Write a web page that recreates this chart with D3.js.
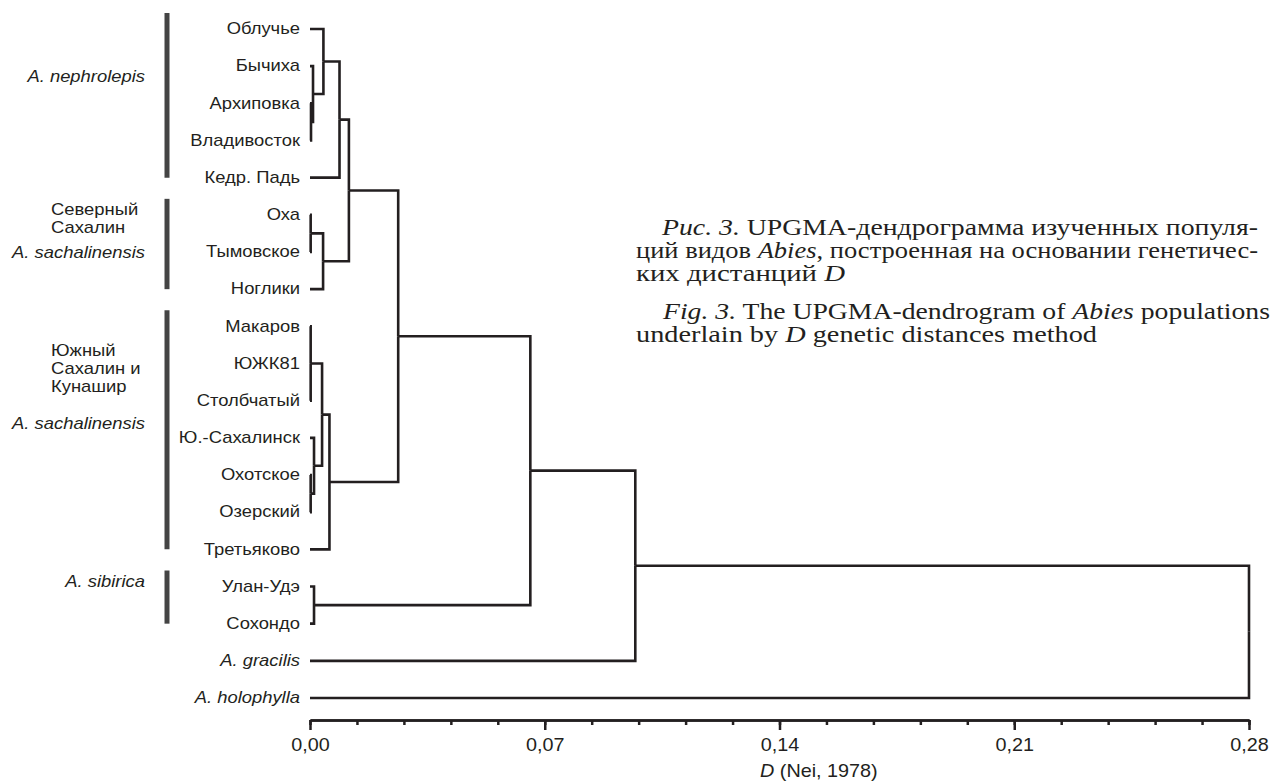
<!DOCTYPE html>
<html>
<head>
<meta charset="utf-8">
<script src="https://cdn.jsdelivr.net/npm/d3@7"></script>
<style>
  body { margin: 0; background: #fff; }
  svg text { font-family: "Liberation Sans", Arial, sans-serif; fill: #231f20; }
  svg .caption text { font-family: "Liberation Serif", "Times New Roman", serif; }
</style>
</head>
<body>
<svg width="1276" height="781"></svg>
<script>
// leaves, top to bottom
const leaves = ["Облучье", "Бычиха", "Архиповка", "Владивосток", "Кедр. Падь",
                "Оха", "Тымовское", "Ноглики",
                "Макаров", "ЮЖК81", "Столбчатый", "Ю.-Сахалинск", "Охотское", "Озерский", "Третьяково",
                "Улан-Удэ", "Сохондо", "A. gracilis", "A. holophylla"];
const italicLeaves = ["A. gracilis", "A. holophylla"];

// UPGMA merges: ids 0..18 are leaves, merge k gets id 19 + k
const mergeChildren = [[2, 3], [1, 19], [0, 20], [21, 4],
                       [5, 6], [23, 7], [22, 24],
                       [8, 9, 10], [12, 13], [11, 27], [26, 28], [29, 14],
                       [25, 30], [15, 16], [31, 32], [33, 17], [34, 18]];
const mergeHeights = [0.0003, 0.0009, 0.0040, 0.0088,
                      0.0002, 0.0039, 0.0116,
                      0.0002, 0.0002, 0.0012, 0.0036, 0.0058,
                      0.0263, 0.0012, 0.0657, 0.0970, 0.2800];

const tickValues = [0, 0.07, 0.14, 0.21, 0.28];
const tickLabels = ["0,00", "0,07", "0,14", "0,21", "0,28"];
const minorValues = d3.range(21).map(i => i * 0.014);

// vertical bars on the left: first and last leaf of each group
const groupFirst = ["Облучье", "Оха", "Макаров", "Улан-Удэ"];
const groupLast = ["Кедр. Падь", "Ноглики", "Третьяково", "Сохондо"];

window.addEventListener('load', e => {
    let svg = d3.select("svg");
    let ink = "#231f20";

    let xScale = d3.scaleLinear()
                   .domain([0, 0.28])
                   .range([310, 1249]);

    let yScale = d3.scalePoint()
                   .domain(leaves)
                   .range([29, 698]);

    // build the tree
    let nodes = leaves.map(name => ({ name: name, height: 0 }));
    mergeChildren.forEach((kids, i) => {
        nodes.push({ children: kids.map(k => nodes[k]), height: mergeHeights[i] });
    });
    let root = d3.hierarchy(nodes[nodes.length - 1]);

    root.eachAfter(d => {
        if (!d.children) {
            d.y = yScale(d.data.name);
        } else {
            d.y = (d.children[0].y + d.children[d.children.length - 1].y) / 2;
        }
        d.x = xScale(d.data.height);
    });

    svg.append("g")
      .selectAll("path")
      .data(root.links())
      .enter()
      .append("path")
        .attr("d", l => "M" + l.target.x + "," + l.target.y +
                        "H" + l.source.x + "V" + l.source.y)
        .attr("fill", "none")
        .attr("stroke", ink)
        .attr("stroke-width", 2.6)
        .attr("stroke-linejoin", "miter");

    // leaf labels
    svg.append("g")
      .selectAll("g")
      .data(leaves)
      .enter()
      .append("g")
        .attr("transform", d => "translate(300," + yScale(d) + ") scale(1.15,1)")
      .append("text")
        .attr("dy", "0.33em")
        .style("text-anchor", "end")
        .style("font-size", "16px")
        .style("font-style", d => italicLeaves.includes(d) ? "italic" : "normal")
        .text(d => d);

    // group bars
    svg.append("g")
      .selectAll("line")
      .data(groupFirst)
      .enter()
      .append("line")
        .attr("x1", 167)
        .attr("x2", 167)
        .attr("y1", (d, i) => yScale(d) - 16)
        .attr("y2", (d, i) => yScale(groupLast[i]))
        .attr("stroke", "#444")
        .attr("stroke-width", 5);

    // group labels
    let groupLabels = [
        { t: "A. nephrolepis", y: 76, x: 145, anchor: "end", italic: true },
        { t: "Северный", y: 209, x: 51, anchor: "start" },
        { t: "Сахалин", y: 227, x: 51, anchor: "start" },
        { t: "A. sachalinensis", y: 252, x: 145, anchor: "end", italic: true },
        { t: "Южный", y: 350, x: 51, anchor: "start" },
        { t: "Сахалин и", y: 368, x: 51, anchor: "start" },
        { t: "Кунашир", y: 386, x: 51, anchor: "start" },
        { t: "A. sachalinensis", y: 423, x: 145, anchor: "end", italic: true },
        { t: "A. sibirica", y: 581, x: 145, anchor: "end", italic: true }
    ];
    svg.append("g")
      .selectAll("g")
      .data(groupLabels)
      .enter()
      .append("g")
        .attr("transform", d => "translate(" + d.x + "," + d.y + ") scale(1.15,1)")
      .append("text")
        .attr("dy", "0.35em")
        .style("text-anchor", d => d.anchor)
        .style("font-size", "16px")
        .style("font-style", d => d.italic ? "italic" : "normal")
        .text(d => d.t);

    // axis
    let minorAxis = d3.axisBottom(xScale)
                      .tickValues(minorValues)
                      .tickSize(5)
                      .tickSizeOuter(0)
                      .tickFormat("");
    let majorAxis = d3.axisBottom(xScale)
                      .tickValues(tickValues)
                      .tickSize(10)
                      .tickSizeOuter(0)
                      .tickPadding(8)
                      .tickFormat((d, i) => tickLabels[i]);

    let gMinor = svg.append("g")
        .attr("transform", "translate(0,720)")
        .call(minorAxis);
    let gMajor = svg.append("g")
        .attr("transform", "translate(0,720)")
        .call(majorAxis);

    [gMinor, gMajor].forEach(g => {
        g.selectAll("path, line")
          .attr("stroke", ink)
          .attr("stroke-width", 2.5);
    });
    gMajor.selectAll("text")
        .attr("transform", "scale(1.1,1)")
        .style("font-family", "'Liberation Sans', Arial, sans-serif")
        .style("font-size", "18px")
        .attr("fill", ink);

    let title = svg.append("text")
        .attr("transform", "translate(760,777) scale(1.1,1)")
        .style("font-size", "18px");
    title.append("tspan").style("font-style", "italic").text("D");
    title.append("tspan").text(" (Nei, 1978)");

    // caption
    let captionLines = [
        { x: 662, y: 235, w: 596, parts: [["Рис. 3.", true], [" UPGMA-дендрограмма изученных популя-", false]] },
        { x: 636, y: 258, w: 622, parts: [["ций видов ", false], ["Abies", true], [", построенная на основании генетичес-", false]] },
        { x: 636, y: 281, w: 209, parts: [["ких дистанций ", false], ["D", true]] },
        { x: 663, y: 319, w: 607, parts: [["Fig. 3.", true], [" The UPGMA-dendrogram of ", false], ["Abies", true], [" populations", false]] },
        { x: 636, y: 342, w: 461, parts: [["underlain by ", false], ["D", true], [" genetic distances method", false]] }
    ];
    let cap = svg.append("g").attr("class", "caption");
    captionLines.forEach(line => {
        let t = cap.append("text")
            .attr("x", line.x)
            .attr("y", line.y)
            .attr("textLength", line.w)
            .attr("lengthAdjust", "spacingAndGlyphs")
            .style("font-size", "23px");
        line.parts.forEach(p => {
            t.append("tspan")
              .style("font-style", p[1] ? "italic" : "normal")
              .text(p[0]);
        });
    });
});
</script>
</body>
</html>
